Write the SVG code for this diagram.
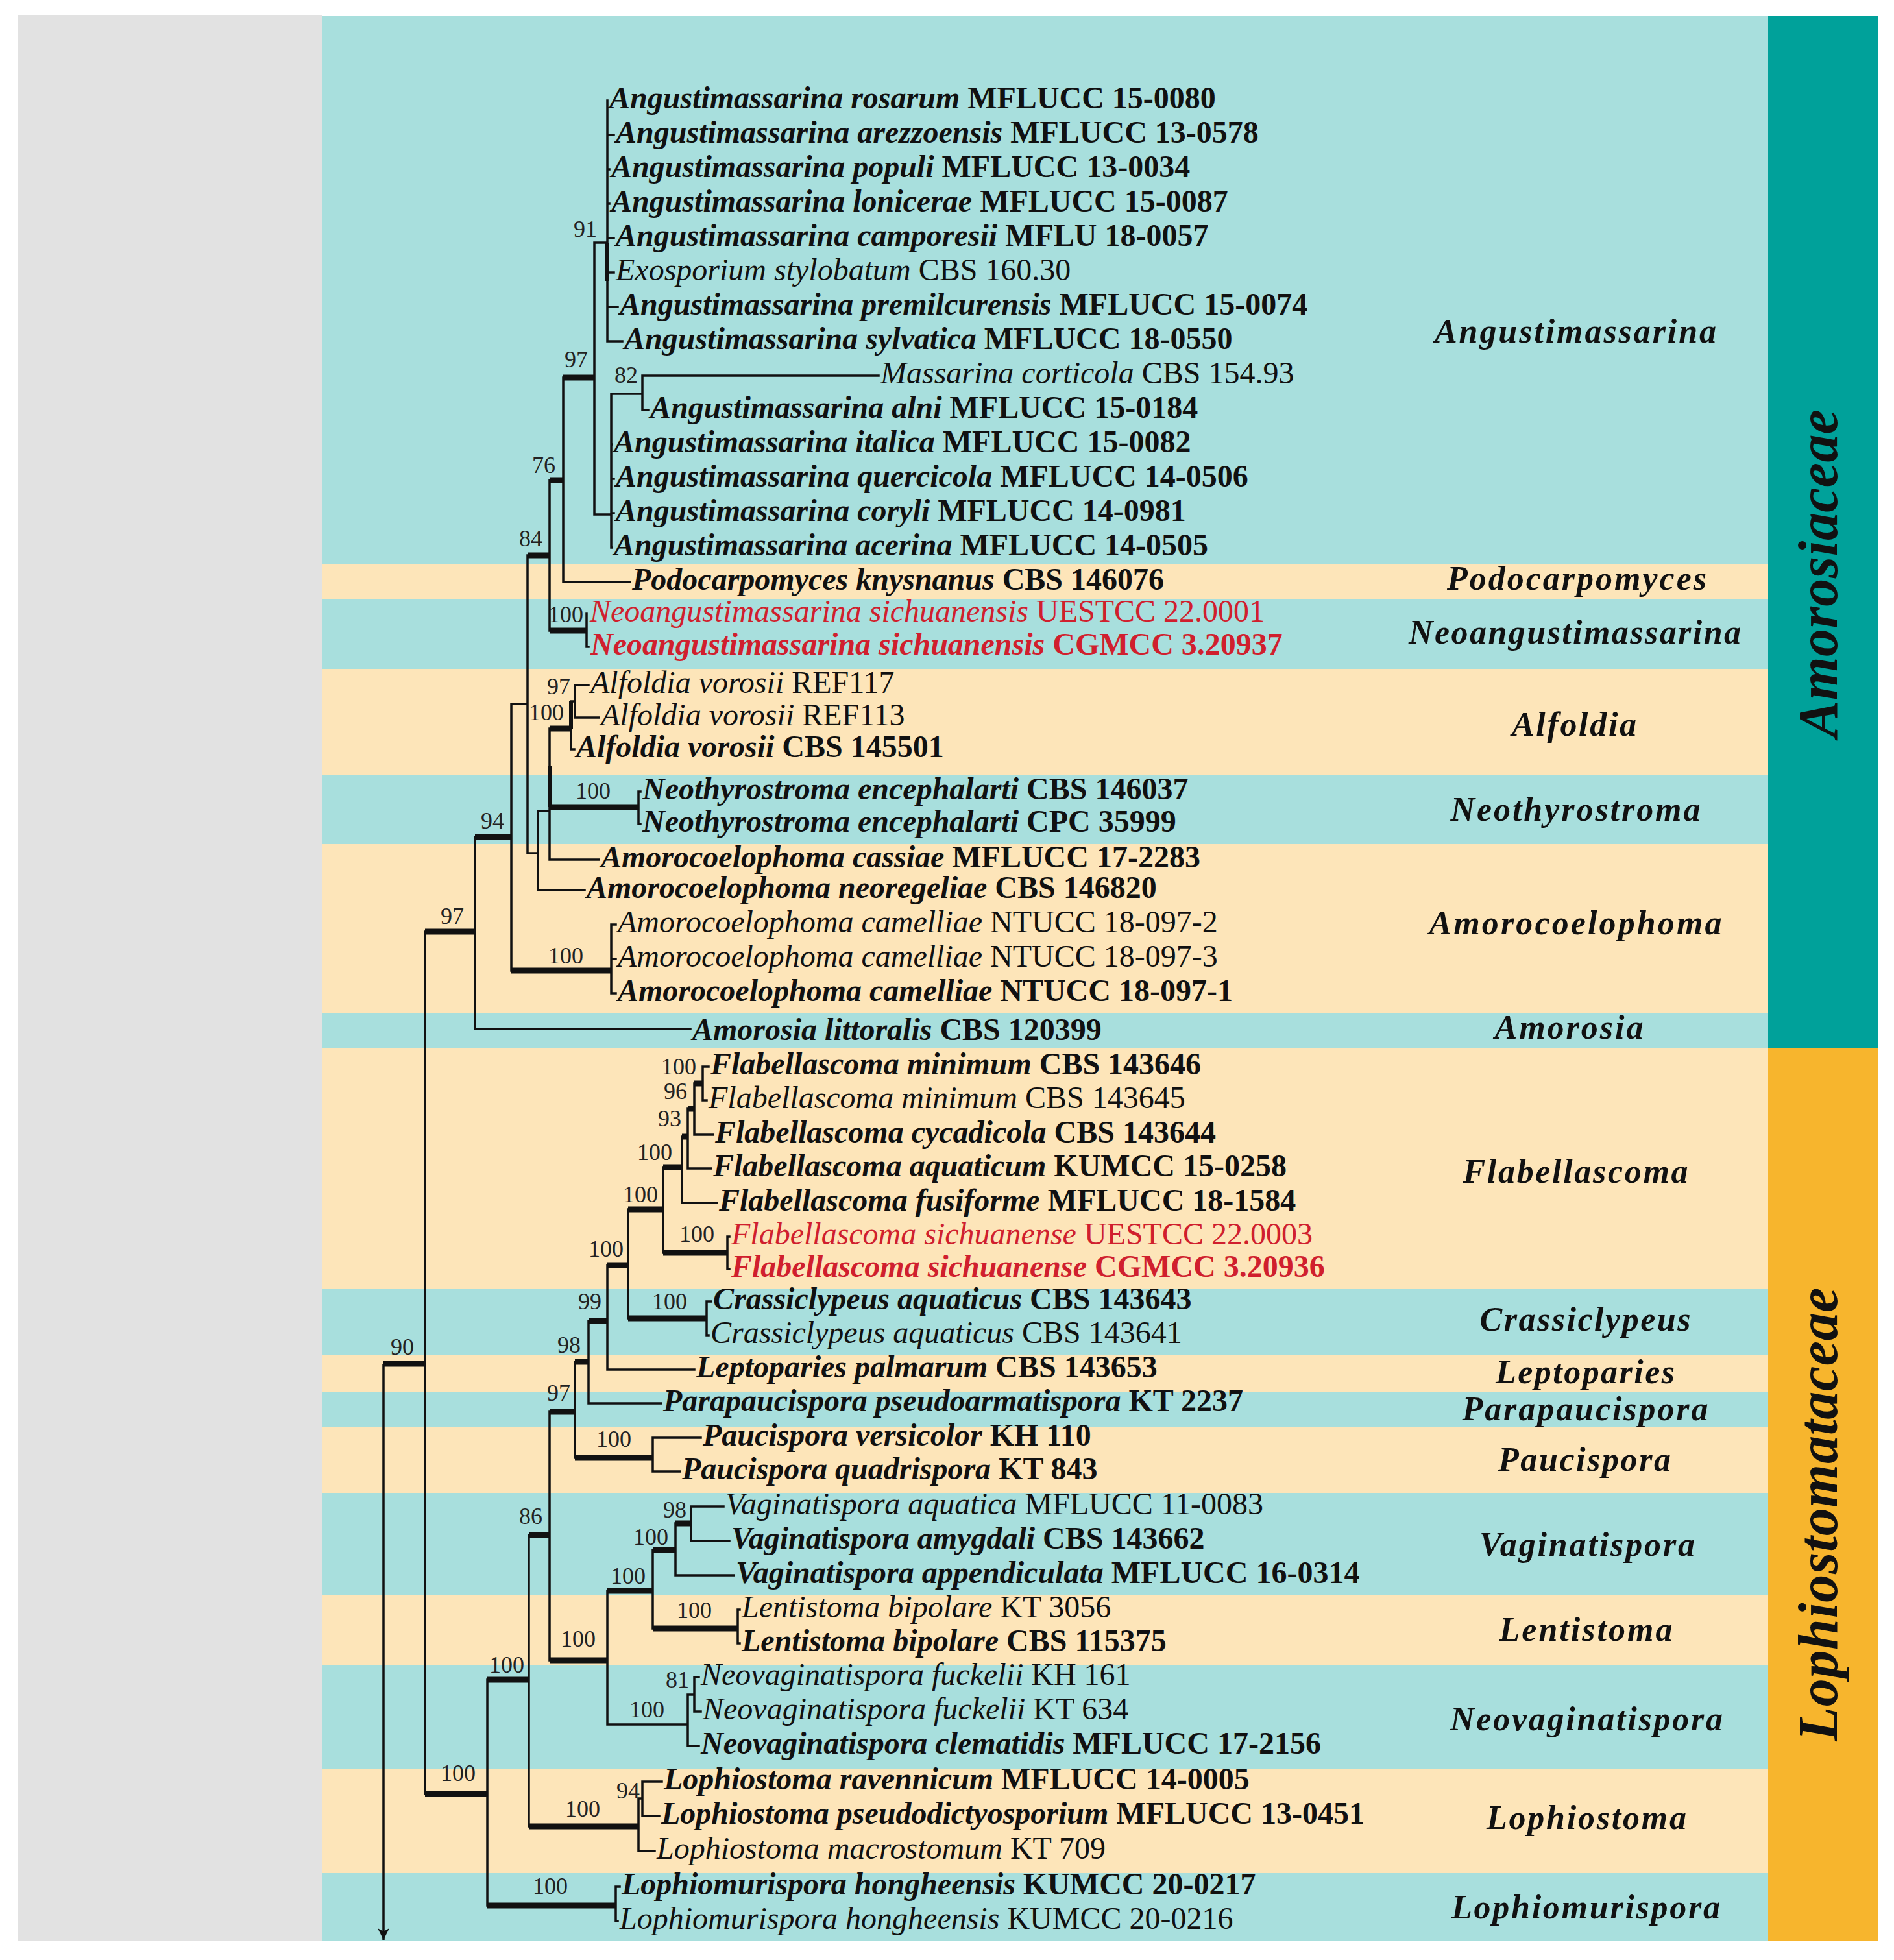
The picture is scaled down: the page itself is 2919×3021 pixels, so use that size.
<svg xmlns="http://www.w3.org/2000/svg" width="2919" height="3021" viewBox="0 0 2919 3021">
<style>
.tx{font-family:"Liberation Serif","Times New Roman",serif;font-size:48px;fill:#111}
.b{font-weight:bold}
.i{font-style:italic}
.r{fill:#D01F2E}
.sv{font-family:"Liberation Serif","Times New Roman",serif;font-size:36px;text-anchor:middle;fill:#222}
.gn{font-family:"Liberation Serif","Times New Roman",serif;font-size:52px;font-weight:bold;font-style:italic;text-anchor:middle;fill:#111}
.fm{font-family:"Liberation Serif","Times New Roman",serif;font-size:86px;font-weight:bold;font-style:italic;text-anchor:middle;fill:#111}
.teal{fill:#A8DFDD}
.org{fill:#FDE5B9}
.thin{fill:none;stroke:#111;stroke-width:3.5;stroke-linecap:square}
.thick{fill:none;stroke:#111;stroke-width:9;stroke-linecap:butt}
</style>
<defs>
<marker id="arr" viewBox="0 0 18 18" refX="18" refY="9" markerWidth="18" markerHeight="18" markerUnits="userSpaceOnUse" orient="auto">
<path d="M0 0 L18 9 L0 18 L5 9 Z" fill="#111"/>
</marker>
</defs>
<rect width="2919" height="3021" fill="#FFFFFF"/>
<g id="background">
<rect x="27" y="23" width="470" height="2968" fill="#E2E2E2"/>
<rect class="teal" x="497" y="24" width="2228" height="845"/>
<rect class="org" x="497" y="869" width="2228" height="54"/>
<rect class="teal" x="497" y="923" width="2228" height="108"/>
<rect class="org" x="497" y="1031" width="2228" height="164"/>
<rect class="teal" x="497" y="1195" width="2228" height="106"/>
<rect class="org" x="497" y="1301" width="2228" height="260"/>
<rect class="teal" x="497" y="1561" width="2228" height="55"/>
<rect class="org" x="497" y="1616" width="2228" height="370"/>
<rect class="teal" x="497" y="1986" width="2228" height="103"/>
<rect class="org" x="497" y="2089" width="2228" height="56"/>
<rect class="teal" x="497" y="2145" width="2228" height="55"/>
<rect class="org" x="497" y="2200" width="2228" height="101"/>
<rect class="teal" x="497" y="2301" width="2228" height="158"/>
<rect class="org" x="497" y="2459" width="2228" height="108"/>
<rect class="teal" x="497" y="2567" width="2228" height="159"/>
<rect class="org" x="497" y="2726" width="2228" height="161"/>
<rect class="teal" x="497" y="2887" width="2228" height="104"/>
</g>
<g id="family-amorosiaceae">
<rect x="2725" y="24" width="170" height="1592" fill="#00A19A"/>
<text class="fm" transform="translate(2831,884) rotate(-90)" textLength="506">Amorosiaceae</text>
</g>
<g id="family-lophiostomataceae">
<rect x="2725" y="1616" width="170" height="1375" fill="#F7B52D"/>
<text class="fm" transform="translate(2831,2334) rotate(-90)" textLength="699">Lophiostomataceae</text>
</g>
<g id="genus-labels">
<text class="gn" x="2428" y="528" textLength="434">Angustimassarina</text>
<text class="gn" x="2430" y="909" textLength="400">Podocarpomyces</text>
<text class="gn" x="2427" y="992" textLength="512">Neoangustimassarina</text>
<text class="gn" x="2426" y="1134" textLength="192">Alfoldia</text>
<text class="gn" x="2428" y="1265" textLength="385">Neothyrostroma</text>
<text class="gn" x="2428" y="1440" textLength="451">Amorocoelophoma</text>
<text class="gn" x="2418" y="1601" textLength="229">Amorosia</text>
<text class="gn" x="2428" y="1823" textLength="347">Flabellascoma</text>
<text class="gn" x="2443" y="2051" textLength="325">Crassiclypeus</text>
<text class="gn" x="2443" y="2132" textLength="276">Leptoparies</text>
<text class="gn" x="2443" y="2189" textLength="379">Parapaucispora</text>
<text class="gn" x="2442" y="2267" textLength="266">Paucispora</text>
<text class="gn" x="2446" y="2398" textLength="332">Vaginatispora</text>
<text class="gn" x="2444" y="2529" textLength="267">Lentistoma</text>
<text class="gn" x="2445" y="2667" textLength="420">Neovaginatispora</text>
<text class="gn" x="2445" y="2819" textLength="308">Lophiostoma</text>
<text class="gn" x="2444" y="2957" textLength="414">Lophiomurispora</text>
</g>
<g id="connectors">
<path class="thin" d="M936 155 V526 M936 208 H946 M936 261 H939 M936 314 H939 M936 367 H946 M936 420 H946 M936 473 H952 M936 526 H959
M916 374 H936 M916 374 V793 M916 793 H942 M942 607 V844 M942 685 H943 M942 738 H946 M942 791 H946 M942 844 H943
M942 607 H990 M990 579 V632 M990 579 H1354 M990 632 H999
M868 582 V897 M868 897 H971 M847 740 V972 M904 946 V997 M904 997 H907
M813 856 V1315 M788 1085 H813 M813 1315 H829 M829 1250 V1372 M829 1372 H901 M829 1250 H847
M847 1123 V1325 M880 1081 V1155 M880 1081 H886 M886 1056 V1106 M886 1056 H907 M886 1106 H923 M880 1155 H885
M984 1220 V1270 M984 1220 H987 M984 1270 H987 M847 1325 H923
M788 1085 V1496 M942 1425 V1531 M942 1425 H949 M942 1478 H949 M942 1531 H949
M732 1290 V1586 M732 1586 H1064 M655 1436 V2765
M751 2589 V2937 M949 2908 V2961 M949 2908 H955 M949 2961 H952
M815 2366 V2815 M984 2772 V2853 M984 2772 H990 M990 2746 V2799 M990 2746 H1020 M990 2799 H1016 M984 2853 H1009
M847 2176 V2559 M936 2452 V2658 M1006 2389 V2510 M1041 2348 V2428 M1065 2322 V2375 M1065 2322 H1115 M1065 2375 H1124 M1041 2428 H1131
M1137 2481 V2533 M1137 2481 H1140 M1137 2533 H1140
M936 2658 H1060 M1060 2612 V2691 M1060 2612 H1070 M1070 2585 V2638 M1070 2585 H1077 M1070 2638 H1080 M1060 2691 H1077
M886 2099 V2247 M1006 2216 V2268 M1006 2216 H1080 M1006 2268 H1048 M907 2036 V2163 M907 2163 H1019
M936 1950 V2111 M936 2111 H1070 M968 1864 V2032 M1089 2006 V2058 M1089 2006 H1096 M1089 2058 H1092
M1022 1799 V1931 M1121 1906 V1956 M1121 1906 H1124 M1121 1956 H1124
M1051 1752 V1854 M1051 1854 H1105 M1060 1709 V1801 M1060 1801 H1096 M1070 1670 V1749 M1070 1749 H1099
M1083 1644 V1696 M1083 1644 H1092 M1083 1696 H1089"/>
<path class="thin" style="stroke-linecap:butt" d="M591 2102 V2990" marker-end="url(#arr)"/>
<path class="thick" d="M868 582 H916 M847 740 H868 M847 972 H904 M813 856 H847 M847 1123 H880 M847 1244 H984
M788 1496 H942 M732 1290 H788 M655 1436 H732 M591 2102 H655 M655 2765 H751 M751 2937 H949 M751 2589 H815
M815 2815 H984 M815 2366 H847 M847 2559 H936 M936 2452 H1006 M1006 2389 H1041 M1041 2348 H1065 M1006 2510 H1137
M847 2176 H886 M886 2247 H1006 M886 2099 H907 M907 2036 H936 M936 1950 H968 M968 2032 H1089 M968 1864 H1022
M1022 1931 H1121 M1022 1799 H1051 M1051 1752 H1060 M1060 1709 H1070 M1070 1670 H1083"/>
<path class="thick" style="stroke-width:6" d="M936 374 V433 M847 1181 V1244 M880 1081 V1123"/>
</g>
<g id="support-values">
<text class="sv" x="902" y="365">91</text>
<text class="sv" x="888" y="566">97</text>
<text class="sv" x="965" y="590">82</text>
<text class="sv" x="838" y="729">76</text>
<text class="sv" x="818" y="842">84</text>
<text class="sv" x="872" y="959">100</text>
<text class="sv" x="861" y="1070">97</text>
<text class="sv" x="842" y="1110">100</text>
<text class="sv" x="914" y="1231">100</text>
<text class="sv" x="759" y="1277">94</text>
<text class="sv" x="697" y="1424">97</text>
<text class="sv" x="872" y="1485">100</text>
<text class="sv" x="1046" y="1656">100</text>
<text class="sv" x="1041" y="1694">96</text>
<text class="sv" x="1032" y="1736">93</text>
<text class="sv" x="1009" y="1788">100</text>
<text class="sv" x="987" y="1853">100</text>
<text class="sv" x="1074" y="1914">100</text>
<text class="sv" x="934" y="1937">100</text>
<text class="sv" x="1032" y="2018">100</text>
<text class="sv" x="909" y="2018">99</text>
<text class="sv" x="877" y="2085">98</text>
<text class="sv" x="620" y="2088">90</text>
<text class="sv" x="861" y="2159">97</text>
<text class="sv" x="946" y="2230">100</text>
<text class="sv" x="1040" y="2339">98</text>
<text class="sv" x="818" y="2349">86</text>
<text class="sv" x="1003" y="2381">100</text>
<text class="sv" x="968" y="2441">100</text>
<text class="sv" x="1070" y="2494">100</text>
<text class="sv" x="891" y="2538">100</text>
<text class="sv" x="781" y="2578">100</text>
<text class="sv" x="1044" y="2601">81</text>
<text class="sv" x="997" y="2647">100</text>
<text class="sv" x="706" y="2745">100</text>
<text class="sv" x="968" y="2772">94</text>
<text class="sv" x="898" y="2800">100</text>
<text class="sv" x="848" y="2919">100</text>
</g>
<g id="taxa">
<g id="t01"><text class="tx b" x="939" y="167"><tspan class="i">Angustimassarina rosarum</tspan> MFLUCC 15-0080</text></g>
<g id="t02"><text class="tx b" x="949" y="220"><tspan class="i">Angustimassarina arezzoensis</tspan> MFLUCC 13-0578</text></g>
<g id="t03"><text class="tx b" x="942" y="273"><tspan class="i">Angustimassarina populi</tspan> MFLUCC 13-0034</text></g>
<g id="t04"><text class="tx b" x="942" y="326"><tspan class="i">Angustimassarina lonicerae</tspan> MFLUCC 15-0087</text></g>
<g id="t05"><text class="tx b" x="949" y="379"><tspan class="i">Angustimassarina camporesii</tspan> MFLU 18-0057</text></g>
<g id="t06"><text class="tx" x="949" y="432"><tspan class="i">Exosporium stylobatum</tspan> CBS 160.30</text></g>
<g id="t07"><text class="tx b" x="955" y="485"><tspan class="i">Angustimassarina premilcurensis</tspan> MFLUCC 15-0074</text></g>
<g id="t08"><text class="tx b" x="962" y="538"><tspan class="i">Angustimassarina sylvatica</tspan> MFLUCC 18-0550</text></g>
<g id="t09"><text class="tx" x="1357" y="591"><tspan class="i">Massarina corticola</tspan> CBS 154.93</text></g>
<g id="t10"><text class="tx b" x="1002" y="644"><tspan class="i">Angustimassarina alni</tspan> MFLUCC 15-0184</text></g>
<g id="t11"><text class="tx b" x="946" y="697"><tspan class="i">Angustimassarina italica</tspan> MFLUCC 15-0082</text></g>
<g id="t12"><text class="tx b" x="949" y="750"><tspan class="i">Angustimassarina quercicola</tspan> MFLUCC 14-0506</text></g>
<g id="t13"><text class="tx b" x="949" y="803"><tspan class="i">Angustimassarina coryli</tspan> MFLUCC 14-0981</text></g>
<g id="t14"><text class="tx b" x="946" y="856"><tspan class="i">Angustimassarina acerina</tspan> MFLUCC 14-0505</text></g>
<g id="t15"><text class="tx b" x="974" y="909"><tspan class="i">Podocarpomyces knysnanus</tspan> CBS 146076</text></g>
<g id="t16"><text class="tx r" x="909" y="958"><tspan class="i">Neoangustimassarina sichuanensis</tspan> UESTCC 22.0001</text></g>
<g id="t17"><text class="tx b r" x="910" y="1009"><tspan class="i">Neoangustimassarina sichuanensis</tspan> CGMCC 3.20937</text></g>
<g id="t18"><text class="tx" x="910" y="1068"><tspan class="i">Alfoldia vorosii</tspan> REF117</text></g>
<g id="t19"><text class="tx" x="926" y="1118"><tspan class="i">Alfoldia vorosii</tspan> REF113</text></g>
<g id="t20"><text class="tx b" x="888" y="1167"><tspan class="i">Alfoldia vorosii</tspan> CBS 145501</text></g>
<g id="t21"><text class="tx b" x="990" y="1232"><tspan class="i">Neothyrostroma encephalarti</tspan> CBS 146037</text></g>
<g id="t22"><text class="tx b" x="990" y="1282"><tspan class="i">Neothyrostroma encephalarti</tspan> CPC 35999</text></g>
<g id="t23"><text class="tx b" x="926" y="1337"><tspan class="i">Amorocoelophoma cassiae</tspan> MFLUCC 17-2283</text></g>
<g id="t24"><text class="tx b" x="904" y="1384"><tspan class="i">Amorocoelophoma neoregeliae</tspan> CBS 146820</text></g>
<g id="t25"><text class="tx" x="952" y="1437"><tspan class="i">Amorocoelophoma camelliae</tspan> NTUCC 18-097-2</text></g>
<g id="t26"><text class="tx" x="952" y="1490"><tspan class="i">Amorocoelophoma camelliae</tspan> NTUCC 18-097-3</text></g>
<g id="t27"><text class="tx b" x="952" y="1543"><tspan class="i">Amorocoelophoma camelliae</tspan> NTUCC 18-097-1</text></g>
<g id="t28"><text class="tx b" x="1067" y="1603"><tspan class="i">Amorosia littoralis</tspan> CBS 120399</text></g>
<g id="t29"><text class="tx b" x="1095" y="1656"><tspan class="i">Flabellascoma minimum</tspan> CBS 143646</text></g>
<g id="t30"><text class="tx" x="1092" y="1708"><tspan class="i">Flabellascoma minimum</tspan> CBS 143645</text></g>
<g id="t31"><text class="tx b" x="1102" y="1761"><tspan class="i">Flabellascoma cycadicola</tspan> CBS 143644</text></g>
<g id="t32"><text class="tx b" x="1099" y="1813"><tspan class="i">Flabellascoma aquaticum</tspan> KUMCC 15-0258</text></g>
<g id="t33"><text class="tx b" x="1108" y="1866"><tspan class="i">Flabellascoma fusiforme</tspan> MFLUCC 18-1584</text></g>
<g id="t34"><text class="tx r" x="1127" y="1918"><tspan class="i">Flabellascoma sichuanense</tspan> UESTCC 22.0003</text></g>
<g id="t35"><text class="tx b r" x="1127" y="1968"><tspan class="i">Flabellascoma sichuanense</tspan> CGMCC 3.20936</text></g>
<g id="t36"><text class="tx b" x="1099" y="2018"><tspan class="i">Crassiclypeus aquaticus</tspan> CBS 143643</text></g>
<g id="t37"><text class="tx" x="1095" y="2070"><tspan class="i">Crassiclypeus aquaticus</tspan> CBS 143641</text></g>
<g id="t38"><text class="tx b" x="1073" y="2123"><tspan class="i">Leptoparies palmarum</tspan> CBS 143653</text></g>
<g id="t39"><text class="tx b" x="1022" y="2175"><tspan class="i">Parapaucispora pseudoarmatispora</tspan> KT 2237</text></g>
<g id="t40"><text class="tx b" x="1083" y="2228"><tspan class="i">Paucispora versicolor</tspan> KH 110</text></g>
<g id="t41"><text class="tx b" x="1051" y="2280"><tspan class="i">Paucispora quadrispora</tspan> KT 843</text></g>
<g id="t42"><text class="tx" x="1118" y="2334"><tspan class="i">Vaginatispora aquatica</tspan> MFLUCC 11-0083</text></g>
<g id="t43"><text class="tx b" x="1127" y="2387"><tspan class="i">Vaginatispora amygdali</tspan> CBS 143662</text></g>
<g id="t44"><text class="tx b" x="1134" y="2440"><tspan class="i">Vaginatispora appendiculata</tspan> MFLUCC 16-0314</text></g>
<g id="t45"><text class="tx" x="1143" y="2493"><tspan class="i">Lentistoma bipolare</tspan> KT 3056</text></g>
<g id="t46"><text class="tx b" x="1143" y="2545"><tspan class="i">Lentistoma bipolare</tspan> CBS 115375</text></g>
<g id="t47"><text class="tx" x="1080" y="2597"><tspan class="i">Neovaginatispora fuckelii</tspan> KH 161</text></g>
<g id="t48"><text class="tx" x="1083" y="2650"><tspan class="i">Neovaginatispora fuckelii</tspan> KT 634</text></g>
<g id="t49"><text class="tx b" x="1080" y="2703"><tspan class="i">Neovaginatispora clematidis</tspan> MFLUCC 17-2156</text></g>
<g id="t50"><text class="tx b" x="1023" y="2758"><tspan class="i">Lophiostoma ravennicum</tspan> MFLUCC 14-0005</text></g>
<g id="t51"><text class="tx b" x="1019" y="2811"><tspan class="i">Lophiostoma pseudodictyosporium</tspan> MFLUCC 13-0451</text></g>
<g id="t52"><text class="tx" x="1012" y="2865"><tspan class="i">Lophiostoma macrostomum</tspan> KT 709</text></g>
<g id="t53"><text class="tx b" x="958" y="2920"><tspan class="i">Lophiomurispora hongheensis</tspan> KUMCC 20-0217</text></g>
<g id="t54"><text class="tx" x="955" y="2973"><tspan class="i">Lophiomurispora hongheensis</tspan> KUMCC 20-0216</text></g>
</g>
</svg>
